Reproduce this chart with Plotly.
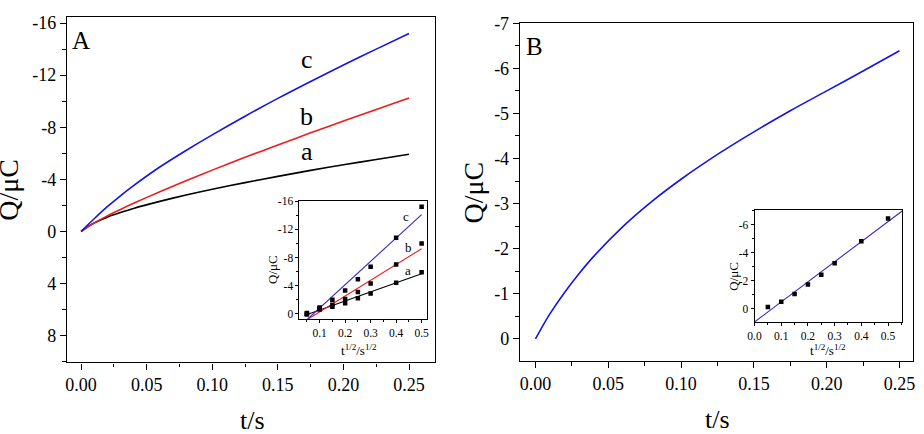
import plotly.graph_objects as go

# ---------------- data ----------------
t_main = [0, 0.005, 0.01, 0.02, 0.03, 0.04, 0.06, 0.08, 0.10, 0.125, 0.15, 0.175, 0.20, 0.225, 0.25]
q_a = [0, -0.36, -0.66, -1.10, -1.45, -1.77, -2.31, -2.80, -3.24, -3.75, -4.23, -4.69, -5.12, -5.53, -5.93]
q_b = [0, -0.34, -0.65, -1.20, -1.69, -2.16, -3.05, -3.89, -4.71, -5.69, -6.64, -7.57, -8.48, -9.37, -10.25]
q_c = [0, -0.50, -0.98, -1.90, -2.74, -3.52, -4.95, -6.22, -7.42, -8.85, -10.22, -11.52, -12.78, -14.00, -15.20]
q_B = [0, -0.29, -0.56, -1.03, -1.45, -1.83, -2.49, -3.05, -3.54, -4.09, -4.59, -5.06, -5.50, -5.94, -6.39]

sqrt_t = [0.05, 0.1, 0.15, 0.2, 0.25, 0.3, 0.4, 0.5]
ins_a = [0.1, -0.6, -1.0, -1.5, -2.2, -2.9, -4.4, -5.9]
ins_b = [-0.05, -0.8, -1.3, -2.1, -3.1, -4.3, -7.0, -10.0]
ins_c = [-0.1, -0.9, -2.0, -3.3, -4.9, -6.7, -10.8, -15.2]
ins_B = [-0.14, -0.51, -1.07, -1.74, -2.44, -3.26, -4.84, -6.47]

fit_x_a = [0.040, 0.5]; fit_a = [0.23, -5.69]
fit_x_b = [0.053, 0.5]; fit_b = [0.79, -9.25]
fit_x_c = [0.048, 0.5]; fit_c = [0.92, -14.1]
fit_x_B = [0.0, 0.553]; fit_B = [0.93, -7.0]

xA_ticks = [0, 0.05, 0.10, 0.15, 0.20, 0.25]
xA_text = ["0.00", "0.05", "0.10", "0.15", "0.20", "0.25"]
yA_ticks = [-16, -12, -8, -4, 0, 4, 8]
yA_text = ["-16", "-12", "-8", "-4", "0", "4", "8"]
yB_ticks = [-7, -6, -5, -4, -3, -2, -1, 0]
yB_text = ["-7", "-6", "-5", "-4", "-3", "-2", "-1", "0"]
xiA_ticks = [0.1, 0.2, 0.3, 0.4, 0.5]
xiA_text = ["0.1", "0.2", "0.3", "0.4", "0.5"]
yiA_ticks = [-16, -12, -8, -4, 0]
yiA_text = ["-16", "-12", "-8", "-4", "0"]
xiB_ticks = [0.0, 0.1, 0.2, 0.3, 0.4, 0.5]
xiB_text = ["0.0", "0.1", "0.2", "0.3", "0.4", "0.5"]
yiB_ticks = [-6, -4, -2, 0]
yiB_text = ["-6", "-4", "-2", "0"]

FONT = "Liberation Serif, Times New Roman, serif"
BLUE = "#1414e6"
RED = "#ee1c1c"
INS_BLUE = "#3b26bf"

fig = go.Figure()

# Panel A main curves
fig.add_trace(go.Scatter(x=t_main, y=q_a, mode="lines", line=dict(color="black", width=1.6, shape="spline", smoothing=0.8), xaxis="x", yaxis="y"))
fig.add_trace(go.Scatter(x=t_main, y=q_b, mode="lines", line=dict(color=RED, width=1.6, shape="spline", smoothing=0.8), xaxis="x", yaxis="y"))
fig.add_trace(go.Scatter(x=t_main, y=q_c, mode="lines", line=dict(color=BLUE, width=1.6, shape="spline", smoothing=0.8), xaxis="x", yaxis="y"))
# Panel B main curve
fig.add_trace(go.Scatter(x=t_main, y=q_B, mode="lines", line=dict(color=BLUE, width=1.6, shape="spline", smoothing=0.8), xaxis="x2", yaxis="y2"))

# Inset A
for fx, fy, col in [(fit_x_a, fit_a, "black"), (fit_x_b, fit_b, RED), (fit_x_c, fit_c, INS_BLUE)]:
    fig.add_trace(go.Scatter(x=fx, y=fy, mode="lines", line=dict(color=col, width=1.1), xaxis="x3", yaxis="y3"))
for iy in [ins_a, ins_b, ins_c]:
    fig.add_trace(go.Scatter(x=sqrt_t, y=iy, mode="markers", marker=dict(symbol="square", size=4.5, color="black"), xaxis="x3", yaxis="y3"))

# Inset B
fig.add_trace(go.Scatter(x=fit_x_B, y=fit_B, mode="lines", line=dict(color=INS_BLUE, width=1.1), xaxis="x4", yaxis="y4"))
fig.add_trace(go.Scatter(x=sqrt_t, y=ins_B, mode="markers", marker=dict(symbol="square", size=4.5, color="black"), xaxis="x4", yaxis="y4"))


def ax(domain, rng, tv, tt, size, anchor, minor_dtick, ticklen=6, mlen=3.5, lw=1.3):
    return dict(domain=domain, range=rng, anchor=anchor, tickmode="array", tickvals=tv, ticktext=tt,
                ticks="outside", ticklen=ticklen, tickwidth=1, tickcolor="black",
                showline=True, linecolor="black", linewidth=lw, mirror=True,
                showgrid=False, zeroline=False,
                tickfont=dict(family=FONT, size=size, color="black"),
                minor=dict(ticks="outside", ticklen=mlen, tickcolor="black", dtick=minor_dtick, tick0=0, showgrid=False))

W, H = 924, 434
def dx(a, b):
    return [a / W, b / W]
def dy(top, bottom):
    return [1 - bottom / H, 1 - top / H]

fig.update_layout(
    width=W, height=H, margin=dict(l=0, r=0, t=0, b=0),
    paper_bgcolor="white", plot_bgcolor="white", showlegend=False,
    font=dict(family=FONT, color="black"),
    xaxis=ax(dx(60.7, 432.7), [-0.0107, 0.2698], xA_ticks, xA_text, 18, "y", 0.025),
    yaxis=ax(dy(6.7, 360.7), [10.05, -16.5], yA_ticks, yA_text, 18, "x", 2),
    xaxis2=ax(dx(518.5, 915.5), [-0.0107, 0.259], xA_ticks, xA_text, 18, "y2", 0.025),
    yaxis2=ax(dy(13.5, 359.3), [0.49, -7.0], yB_ticks, yB_text, 18, "x2", 0.5),
    xaxis3=ax(dx(295.7, 424.3), [0.021, 0.52], xiA_ticks, xiA_text, 11.5, "y3", 0.05, 3, 2, 1),
    yaxis3=ax(dy(195, 316.7), [0.8, -16.1], yiA_ticks, yiA_text, 11.5, "x3", 2, 3, 2, 1),
    xaxis4=ax(dx(755.7, 905), [0.0, 0.553], xiB_ticks, xiB_text, 11.5, "y4", 0.05, 3, 2, 1),
    yaxis4=ax(dy(205, 319.3), [0.93, -7.05], yiB_ticks, yiB_text, 11.5, "x4", 1, 3, 2, 1),
)


def ann(text, x, y, size, angle=0):
    fig.add_annotation(text=text, x=x / W, y=1 - y / H, xref="paper", yref="paper",
                       xanchor="center", yanchor="middle", showarrow=False, textangle=angle,
                       font=dict(family=FONT, size=size, color="black"))

ann("Q/μC", 2, 184, 28, -90)
ann("Q/μC", 472, 187, 28, -90)
ann("t/s", 248, 420, 26)
ann("t/s", 718, 419, 26)
ann("A", 75, 31, 25)
ann("B", 533, 37, 25)
ann("c", 303, 51, 26)
ann("b", 303, 109, 26)
ann("a", 303, 145, 26)
ann("c", 403, 211, 13)
ann("b", 405.5, 243, 13)
ann("a", 405, 267, 13)
ann("Q/μC", 269, 266, 13, -90)
ann("Q/μC", 735, 273, 13, -90)
ann("t<sup>1/2</sup>/s<sup>1/2</sup>", 356, 348, 13)
ann("t<sup>1/2</sup>/s<sup>1/2</sup>", 830, 348, 13)

fig.write_html("out.html")
